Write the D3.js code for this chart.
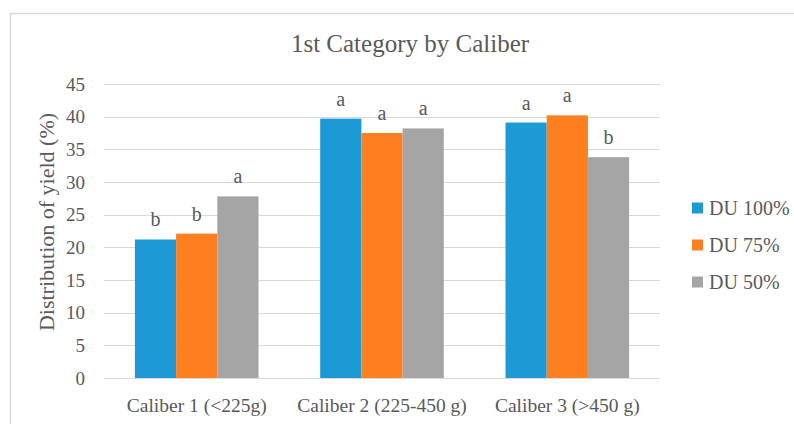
<!DOCTYPE html>
<html>
<head>
<meta charset="utf-8">
<script src="https://cdn.jsdelivr.net/npm/d3@7"></script>
</head>
<body style="margin:0; background:#fff">
<div id="chart"></div>
<script>
// data
const categories = ["Caliber 1 (<225g)", "Caliber 2 (225-450 g)", "Caliber 3 (>450 g)"];
const seriesNames = ["DU 100%", "DU 75%", "DU 50%"];
const du100 = [21.2, 39.7, 39.1];
const du75 = [22.1, 37.5, 40.2];
const du50 = [27.8, 38.2, 33.8];
const letters100 = ["b", "a", "a"];
const letters75 = ["b", "a", "a"];
const letters50 = ["a", "a", "b"];
const yTicks = [0, 5, 10, 15, 20, 25, 30, 35, 40, 45];
const colors = ["#1b9ad6", "#fe7f1f", "#a5a5a5"];

const W = 794, H = 424;
const plot = {left: 104, right: 660, top: 84, bottom: 378};
const FONT = "Liberation Serif";
const TXT = "#595959";

const svg = d3.select("#chart")
  .append("svg")
  .attr("width", W)
  .attr("height", H)
  .attr("font-family", FONT);

// chart area border
svg.append("rect")
  .attr("x", 10.5).attr("y", 13.5)
  .attr("width", W).attr("height", H)
  .attr("fill", "none")
  .attr("stroke", "#d9d9d9")
  .attr("stroke-width", 1.5);

const x = d3.scaleBand()
  .domain(categories)
  .range([plot.left, plot.right])
  .paddingInner(0.333)
  .paddingOuter(0.1667);

const x1 = d3.scaleBand()
  .domain(seriesNames)
  .range([0, x.bandwidth()]);

const y = d3.scaleLinear()
  .domain([0, 45])
  .range([plot.bottom, plot.top]);

// gridlines
svg.append("g")
  .selectAll("line")
  .data(yTicks)
  .join("line")
  .attr("x1", plot.left).attr("x2", plot.right)
  .attr("y1", d => Math.round(y(d)) + 0.5)
  .attr("y2", d => Math.round(y(d)) + 0.5)
  .attr("stroke", "#d9d9d9")
  .attr("stroke-width", 1);

// y axis tick labels
const yAxis = svg.append("g")
  .attr("transform", `translate(${plot.left - 19},0)`)
  .call(d3.axisLeft(y).tickValues(yTicks).tickSize(0).tickPadding(0));
yAxis.select(".domain").remove();
yAxis.attr("font-family", FONT);
yAxis.selectAll("text")
  .attr("font-family", FONT)
  .attr("font-size", "19px")
  .attr("fill", TXT);

// x axis category labels
const xAxis = svg.append("g")
  .attr("transform", `translate(0,${plot.bottom})`)
  .call(d3.axisBottom(x).tickSize(0).tickPadding(20));
xAxis.select(".domain").remove();
xAxis.attr("font-family", FONT);
xAxis.selectAll("text")
  .attr("font-family", FONT)
  .attr("font-size", "19.5px")
  .attr("fill", TXT);

// bars
const rows = categories.map((c, i) => ({
  cat: c,
  vals: [du100[i], du75[i], du50[i]],
  lets: [letters100[i], letters75[i], letters50[i]]
}));

const groups = svg.append("g")
  .selectAll("g")
  .data(rows)
  .join("g")
  .attr("transform", d => `translate(${x(d.cat)},0)`);

groups.selectAll("rect")
  .data(d => d.vals.map((v, j) => ({name: seriesNames[j], v: v, j: j})))
  .join("rect")
  .attr("x", d => x1(d.name))
  .attr("width", x1.bandwidth())
  .attr("y", d => y(d.v))
  .attr("height", d => y(0) - y(d.v))
  .attr("fill", d => colors[d.j]);

// significance letters
groups.selectAll("text.sig")
  .data(d => d.lets.map((l, j) => ({name: seriesNames[j], v: d.vals[j], l: l})))
  .join("text")
  .attr("class", "sig")
  .attr("x", d => x1(d.name) + x1.bandwidth() / 2)
  .attr("y", d => y(d.v) - 13)
  .attr("text-anchor", "middle")
  .attr("font-family", FONT)
  .attr("font-size", "20px")
  .attr("fill", TXT)
  .text(d => d.l);

// title
svg.append("text")
  .attr("x", 410)
  .attr("y", 52)
  .attr("text-anchor", "middle")
  .attr("font-family", FONT)
  .attr("font-size", "25px")
  .attr("fill", TXT)
  .text("1st Category by Caliber");

// y axis title
svg.append("text")
  .attr("transform", "translate(54,222) rotate(-90)")
  .attr("text-anchor", "middle")
  .attr("font-family", FONT)
  .attr("font-size", "22px")
  .attr("fill", TXT)
  .text("Distribution of yield (%)");

// legend
const legend = svg.append("g")
  .selectAll("g")
  .data(seriesNames)
  .join("g")
  .attr("transform", (d, i) => `translate(692,${208 + i * 37})`);

legend.append("rect")
  .attr("x", 0).attr("y", -5.5)
  .attr("width", 11).attr("height", 11)
  .attr("fill", (d, i) => colors[i]);

legend.append("text")
  .attr("x", 17)
  .attr("dy", "0.35em")
  .attr("font-family", FONT)
  .attr("font-size", "20px")
  .attr("fill", TXT)
  .text(d => d);
</script>
</body>
</html>
